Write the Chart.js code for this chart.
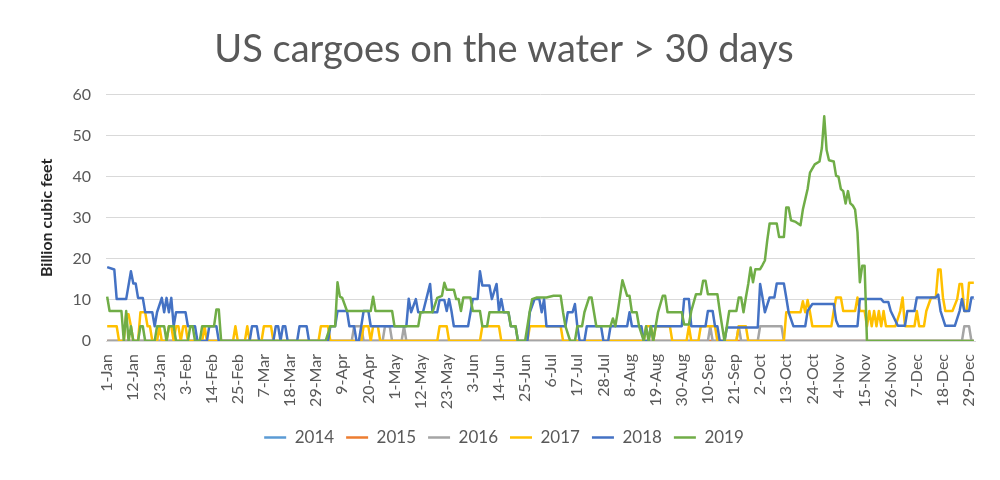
<!DOCTYPE html>
<html>
    <head>
        <title>US cargoes on the water</title>
        <script src="https://cdn.jsdelivr.net/npm/chart.js@4.4.0/dist/chart.umd.min.js"></script>
        <style>
            body { margin: 0; background: #ffffff; }
            .chart-container { position: relative; width: 1000px; height: 480px; }
        </style>
    </head>
    <body>
        <div class="chart-container">
            <canvas id="myChart"></canvas>
        </div>
        <script>
            // x axis labels, one every 11 days (day 0 = 1-Jan)
            const tickDays = [0, 11, 22, 33, 44, 55, 66, 77, 88, 99, 110, 121, 132, 143, 154, 165, 176,
                187, 198, 209, 220, 231, 242, 253, 264, 275, 286, 297, 308, 319, 330, 341, 352, 363];
            const tickLabels = ['1-Jan', '12-Jan', '23-Jan', '3-Feb', '14-Feb', '25-Feb', '7-Mar', '18-Mar',
                '29-Mar', '9-Apr', '20-Apr', '1-May', '12-May', '23-May', '3-Jun', '14-Jun', '25-Jun', '6-Jul',
                '17-Jul', '28-Jul', '8-Aug', '19-Aug', '30-Aug', '10-Sep', '21-Sep', '2-Oct', '13-Oct', '24-Oct',
                '4-Nov', '15-Nov', '26-Nov', '7-Dec', '18-Dec', '29-Dec'];

            // [day of year, bcf] - points where the level changes
            const s2014 = [[0, 0], [365, 0]];
            const s2015 = [[0, 0], [365, 0]];
            const s2016 = [[0, 0], [103, 0], [104, 3.6], [107, 3.6], [108, 0], [116, 0], [117, 3.6], [119, 3.6],
                [120, 0], [124, 0], [125, 3.6], [126, 0], [253, 0], [254, 3.6], [255, 0], [265, 0], [266, 3.6],
                [267, 0], [274, 0], [275, 3.6], [284, 3.6], [285, 0], [360, 0], [361, 3.6], [363, 3.6], [364, 0], [365, 0]];
            const s2017 = [[0, 3.6], [4, 3.6], [5, 0], [7, 0], [8, 6.5], [9, 6.5], [10, 3.6], [11, 0], [13, 0],
                [14, 7], [16, 7], [17, 3.6], [18, 3.6], [19, 0], [21, 0], [22, 3.6], [23, 0], [25, 0], [26, 3.6],
                [27, 3.6], [28, 0], [29, 3.6], [30, 3.6], [31, 0], [32, 3.6], [33, 3.6], [34, 0], [40, 0], [41, 3.6],
                [42, 0], [53, 0], [54, 3.6], [55, 0], [58, 0], [59, 3.6], [60, 0], [65, 0], [66, 3.6], [69, 3.6],
                [70, 0], [89, 0], [90, 3.6], [93, 3.6], [94, 0], [107, 0], [108, 3.6], [110, 3.6], [111, 0],
                [112, 3.6], [114, 3.6], [115, 0], [139, 0], [140, 3.6], [143, 3.6], [144, 0], [157, 0], [158, 3.6],
                [165, 3.6], [166, 0], [177, 0], [178, 3.6], [191, 3.6], [192, 0], [226, 0], [227, 3.6], [229, 3.6],
                [230, 0], [231, 3.6], [237, 3.6], [238, 0], [244, 0], [245, 3.6], [246, 0], [249, 0], [250, 3.6],
                [256, 3.6], [257, 0], [265, 0], [266, 3.6], [269, 3.6], [270, 0], [285, 0], [286, 7], [292, 7],
                [293, 9.7], [294, 7], [295, 10], [296, 7], [297, 3.6], [305, 3.6], [306, 7.3], [307, 10.6],
                [309, 10.6], [310, 7.3], [315, 7.3], [316, 10.6], [317, 7.3], [319, 7.3], [320, 3.6], [321, 7.3],
                [322, 3.6], [323, 7.3], [324, 3.6], [325, 7.3], [326, 3.6], [327, 7.3], [328, 3.6], [332, 3.6],
                [334, 7.3], [335, 10.6], [336, 3.6], [340, 3.6], [341, 7.3], [342, 3.6], [344, 3.6], [345, 7.3],
                [347, 10.6], [349, 10.6], [350, 17.4], [351, 17.4], [352, 10.6], [353, 7.3], [356, 7.3], [358, 10.2],
                [359, 13.9], [360, 13.9], [361, 7.3], [362, 7.3], [363, 14.2], [365, 14.2]];
            const s2018 = [[0, 18], [3, 17.4], [4, 10.2], [8, 10.2], [10, 17], [11, 14], [12, 14], [13, 10.5],
                [15, 10.5], [16, 7], [19, 7], [20, 3.6], [21, 7], [23, 10.5], [24, 7], [25, 10.5], [26, 7], [27, 10.5],
                [28, 3.6], [29, 7], [33, 7], [34, 3.6], [37, 3.6], [38, 0], [42, 0], [43, 3.6], [46, 3.6], [47, 0],
                [60, 0], [61, 3.6], [63, 3.6], [64, 0], [70, 0], [71, 3.6], [72, 3.6], [73, 0], [74, 3.6], [75, 3.6],
                [76, 0], [80, 0], [81, 3.6], [84, 3.6], [85, 0], [93, 0], [94, 3.6], [96, 3.6], [97, 7.3], [101, 7.3],
                [102, 3.6], [104, 3.6], [105, 0], [106, 0], [107, 3.6], [108, 7.3], [110, 7.3], [111, 3.6], [126, 3.6],
                [127, 10.3], [128, 7], [130, 10.2], [131, 7], [133, 7], [136, 13.9], [137, 7], [139, 7], [140, 10],
                [142, 10], [143, 7.3], [144, 10.2], [145, 7.3], [146, 3.6], [152, 3.6], [154, 10.2], [156, 10.2],
                [157, 17], [158, 13.5], [161, 13.5], [162, 10.2], [164, 13.9], [165, 7.3], [166, 10.2], [167, 7],
                [169, 7], [170, 3.6], [172, 3.6], [173, 0], [177, 0], [178, 7], [180, 10.2], [182, 10.2], [183, 7],
                [184, 10.2], [185, 3.6], [193, 3.6], [194, 7], [196, 7], [197, 9], [198, 3.6], [199, 0], [201, 0],
                [202, 3.6], [208, 3.6], [209, 0], [211, 0], [212, 3.6], [219, 3.6], [220, 7], [221, 3.6], [225, 3.6],
                [226, 0], [228, 0], [229, 3.6], [242, 3.6], [243, 10.2], [245, 10.2], [246, 3.6], [252, 3.6],
                [253, 7.3], [255, 7.3], [256, 3.6], [257, 3.6], [258, 0], [260, 0], [261, 3.3], [274, 3.3],
                [275, 13.9], [276, 10.6], [277, 7], [279, 10.6], [281, 10.6], [282, 14], [285, 14], [286, 10.6],
                [287, 7], [289, 3.6], [294, 3.6], [295, 7.3], [297, 9], [306, 9], [307, 5], [308, 3.6], [316, 3.6],
                [317, 10.2], [326, 10.2], [327, 9.5], [329, 9.5], [330, 7.3], [333, 3.7], [336, 3.7], [337, 7.3],
                [340, 7.3], [341, 10.6], [349, 10.6], [350, 11.3], [351, 7.3], [353, 3.7], [357, 3.7], [359, 7.3],
                [360, 10.2], [361, 7.3], [363, 7.3], [364, 10.6], [365, 10.6]];
            const s2019 = [[0, 10.8], [1, 7.3], [6, 7.3], [7, 0], [8, 7.3], [9, 0], [10, 3.6], [11, 0], [13, 0],
                [14, 3.6], [15, 3.6], [16, 0], [20, 0], [21, 3.6], [24, 3.6], [25, 0], [26, 3.6], [28, 3.6], [29, 0],
                [34, 0], [35, 3.6], [36, 3.6], [37, 0], [39, 0], [40, 3.6], [45, 3.6], [46, 7.7], [47, 7.7], [48, 0],
                [92, 0], [94, 3.6], [96, 3.6], [97, 14.3], [98, 10.8], [99, 10.5], [101, 7.3], [111, 7.3], [112, 10.8],
                [113, 7.3], [120, 7.3], [121, 3.6], [131, 3.6], [132, 7], [137, 7], [139, 10.5], [141, 11], [142, 14.2],
                [143, 12.5], [146, 12.5], [147, 10.2], [148, 10.2], [149, 7.3], [150, 10.6], [153, 10.6], [154, 7.3],
                [157, 7.3], [158, 3.6], [160, 3.6], [161, 7], [169, 7], [170, 3.6], [172, 3.6], [173, 0], [176, 0],
                [177, 3.6], [178, 7.3], [179, 10.2], [181, 10.6], [185, 10.6], [188, 11], [191, 11], [192, 7],
                [193, 3.6], [195, 0], [197, 0], [198, 3.6], [200, 3.6], [201, 7], [203, 10.6], [204, 10.6], [206, 3.6],
                [212, 3.6], [213, 5.5], [214, 3.6], [215, 7], [217, 14.8], [219, 11], [220, 11], [221, 7], [223, 7],
                [224, 3.6], [226, 0], [227, 3.6], [228, 0], [229, 3.6], [230, 0], [231, 3.6], [232, 7], [234, 11],
                [235, 11], [236, 7], [242, 7], [243, 4], [245, 4], [246, 7.3], [248, 11.4], [250, 11.4], [251, 14.7],
                [252, 14.7], [253, 11.4], [257, 11.4], [258, 7.3], [259, 3.6], [260, 0], [261, 3.6], [262, 7.3],
                [265, 7.3], [266, 10.6], [267, 10.6], [268, 7], [269, 10.6], [270, 13.9], [271, 17.9], [272, 14.3],
                [273, 17.5], [275, 17.5], [276, 18.5], [277, 19.6], [278, 24.5], [279, 28.6], [282, 28.6], [283, 25.3],
                [285, 25.3], [286, 32.5], [287, 32.5], [288, 29.4], [290, 29], [292, 28.2], [293, 32], [295, 37],
                [296, 41], [298, 43], [300, 43.7], [301, 47], [302, 54.7], [303, 46.5], [304, 44], [306, 43.7],
                [307, 40.2], [308, 40], [309, 37], [310, 36.5], [311, 33.5], [312, 36.5], [313, 33.5], [314, 33],
                [315, 32], [316, 26.5], [317, 14.3], [318, 18.3], [319, 18.3], [320, 0], [365, 0]];

            const seriesNames = ['2014', '2015', '2016', '2017', '2018', '2019'];
            const seriesData = [s2014, s2015, s2016, s2017, s2018, s2019];
            const seriesColors = ['#5B9BD5', '#ED7D31', '#A5A5A5', '#FFC000', '#4472C4', '#70AD47'];

            const textColor = '#595959';
            const fontFamily = "Lato, 'Open Sans', sans-serif";

            const datasets = seriesNames.map((name, i) => ({
                label: name,
                data: seriesData[i].map(p => ({x: p[0], y: p[1]})),
                borderColor: seriesColors[i],
                backgroundColor: seriesColors[i],
                borderWidth: 2.5,
                pointRadius: 0,
                tension: 0,
                borderJoinStyle: 'round',
                order: seriesNames.length - i // 2019 drawn on top like Excel
            }));

            const ctx = document.getElementById('myChart').getContext('2d');
            const chart = new Chart(ctx, {
                type: 'line',
                data: { datasets: datasets },
                options: {
                    responsive: true,
                    maintainAspectRatio: false,
                    animation: false,
                    layout: { padding: { left: 33, right: 25, top: 10, bottom: 24 } },
                    plugins: {
                        title: {
                            display: true,
                            text: 'US cargoes on the water > 30 days',
                            color: textColor,
                            font: { family: fontFamily, size: 38, weight: 'normal' },
                            padding: { top: 17, bottom: 22 }
                        },
                        legend: {
                            position: 'bottom',
                            labels: {
                                color: textColor,
                                font: { family: fontFamily, size: 17 },
                                usePointStyle: true,
                                pointStyle: 'line',
                                pointStyleWidth: 22,
                                padding: 12,
                                sort: (a, b) => a.datasetIndex - b.datasetIndex
                            }
                        },
                        tooltip: { enabled: false }
                    },
                    scales: {
                        x: {
                            type: 'linear',
                            min: -0.5,
                            max: 365.5,
                            afterBuildTicks: (axis) => {
                                axis.ticks = tickDays.map(v => ({ value: v }));
                            },
                            afterFit: (axis) => { axis.height = 76; },
                            grid: { display: false },
                            border: { color: '#d9d9d9', width: 1 },
                            ticks: {
                                autoSkip: false,
                                minRotation: 90,
                                maxRotation: 90,
                                padding: 5,
                                color: textColor,
                                font: { family: fontFamily, size: 16 },
                                callback: (value) => tickLabels[tickDays.indexOf(value)]
                            }
                        },
                        y: {
                            min: 0,
                            max: 60,
                            afterFit: (axis) => { axis.width = 73; },
                            grid: { color: '#d9d9d9', lineWidth: 1, drawTicks: false },
                            border: { display: false },
                            ticks: {
                                stepSize: 10,
                                padding: 15,
                                color: textColor,
                                font: { family: fontFamily, size: 16 }
                            },
                            title: {
                                display: true,
                                text: 'Billion cubic feet',
                                color: '#262626',
                                font: { family: fontFamily, size: 16, weight: 'bold' },
                                padding: { top: 4, bottom: 4 }
                            }
                        }
                    }
                }
            });
        </script>
    </body>
</html>
